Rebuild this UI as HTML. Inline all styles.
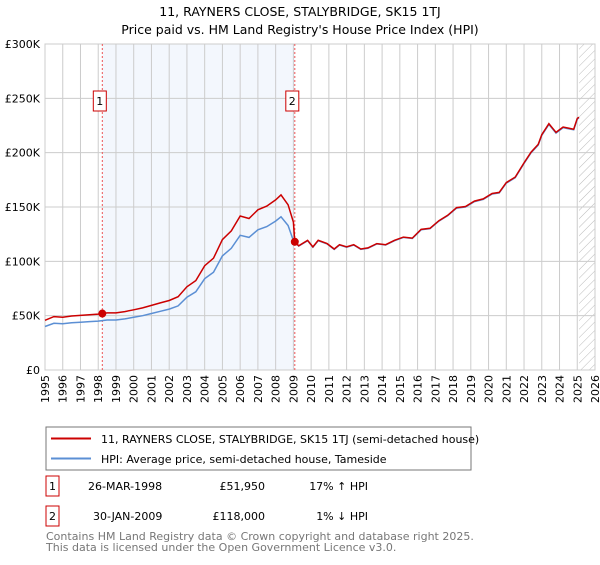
<!DOCTYPE html>
<html><head><meta charset="utf-8"><style>
body{margin:0;background:#fff;font-family:"Liberation Sans","DejaVu Sans",sans-serif;}
svg text{font-family:"DejaVu Sans","Liberation Sans",sans-serif;}
</style></head><body>
<svg id="c" width="600" height="560" xmlns="http://www.w3.org/2000/svg">
<text x="300" y="16" text-anchor="middle" font-size="12.5">11, RAYNERS CLOSE, STALYBRIDGE, SK15 1TJ</text>
<text x="300" y="34" text-anchor="middle" font-size="12.5">Price paid vs. HM Land Registry's House Price Index (HPI)</text>
<g id="plot"></g>
<g>
<rect x="46" y="427" width="425" height="43" fill="#fff" stroke="#777"/>
<line x1="51" y1="438.5" x2="91" y2="438.5" stroke="#cc0000" stroke-width="2"/>
<text x="101" y="443" font-size="11">11, RAYNERS CLOSE, STALYBRIDGE, SK15 1TJ (semi-detached house)</text>
<line x1="51" y1="458.5" x2="91" y2="458.5" stroke="#5b8fd4" stroke-width="2"/>
<text x="101" y="463" font-size="11">HPI: Average price, semi-detached house, Tameside</text>
</g>
<g font-size="11">
<rect x="46" y="476" width="13" height="20" fill="#fff" stroke="#cc0000"/><text x="52.5" y="490" text-anchor="middle">1</text>
<text x="88" y="490">26-MAR-1998</text><text x="265" y="490" text-anchor="end">£51,950</text><text x="368" y="490" text-anchor="end">17% ↑ HPI</text>
<rect x="46" y="506" width="13" height="20" fill="#fff" stroke="#cc0000"/><text x="52.5" y="520" text-anchor="middle">2</text>
<text x="93" y="520">30-JAN-2009</text><text x="265" y="520" text-anchor="end">£118,000</text><text x="368" y="520" text-anchor="end">1% ↓ HPI</text>
</g>
<text x="46" y="540" font-size="11" fill="#777">Contains HM Land Registry data © Crown copyright and database right 2025.</text>
<text x="46" y="551" font-size="11" fill="#777">This data is licensed under the Open Government Licence v3.0.</text>
</svg>
<script>
const hpiYears=[1995,1995.5,1996,1996.5,1997,1997.5,1998,1998.5,1999,1999.5,2000,2000.5,2001,2001.5,2002,2002.5,2003,2003.5,2004,2004.5,2005,2005.5,2006,2006.5,2007,2007.5,2008,2008.3,2008.7,2009,2009.3,2009.8,2010.1,2010.4,2010.9,2011.3,2011.6,2012,2012.4,2012.8,2013.2,2013.7,2014.2,2014.7,2015.2,2015.7,2016.2,2016.7,2017.2,2017.7,2018.2,2018.7,2019.2,2019.7,2020.2,2020.6,2021,2021.5,2022,2022.4,2022.8,2023,2023.4,2023.8,2024.2,2024.5,2024.8,2025,2025.1];
const hpiValues=[40,43,42.5,43.5,44,44.5,45,46,46,47,48.5,50,52,54,56,59,67,72,84,90,105,112,124,122,129,132,137,141,133,119,114,119,113,119,116,111,115,113,115,111,112,116,115,119,122,121,129,130,137,142,149,150,155,157,162,163,172,177,190,200,207,216,226,218,223,222,221,231,232];
const saleYears=[1998.23,2009.08];
const salePrices=[51950,118000];
const saleLabels=["1","2"];
const yTicks=[0,50000,100000,150000,200000,250000,300000];
const yTickLabels=["£0","£50K","£100K","£150K","£200K","£250K","£300K"];
const xTicks=[1995,1996,1997,1998,1999,2000,2001,2002,2003,2004,2005,2006,2007,2008,2009,2010,2011,2012,2013,2014,2015,2016,2017,2018,2019,2020,2021,2022,2023,2024,2025,2026];

const X0=45,X1=595,Y0=370,Y1=44;
const xs=y=>X0+(y-1995)/(2026-1995)*(X1-X0);
const ys=v=>Y0-v/300000*(Y0-Y1);
const NS="http://www.w3.org/2000/svg";
const g=document.getElementById('plot');
function mk(t,a,p){const e=document.createElementNS(NS,t);for(const k in a)e.setAttribute(k,a[k]);(p||g).appendChild(e);return e;}
function hpiAt(y){for(let i=1;i<hpiYears.length;i++){if(y<=hpiYears[i]){const f=(y-hpiYears[i-1])/(hpiYears[i]-hpiYears[i-1]);return (hpiValues[i-1]+f*(hpiValues[i]-hpiValues[i-1]))*1000;}}return hpiValues[hpiValues.length-1]*1000;}

let e=mk('rect',{x:xs(saleYears[0]),y:Y1,width:xs(saleYears[1])-xs(saleYears[0]),height:Y0-Y1,fill:'#eef3fc',opacity:0.7});

const defs=mk('defs',{});const pat=mk('pattern',{id:'h',width:6,height:6,patternUnits:'userSpaceOnUse',patternTransform:'rotate(45)'},defs);
mk('line',{x1:0,y1:0,x2:0,y2:6,stroke:'#bbb','stroke-width':1},pat);
e=mk('rect',{x:xs(2025.1),y:Y1,width:X1-xs(2025.1),height:Y0-Y1,fill:'url(#h)'});

xTicks.forEach(t=>{let l=mk('line',{x1:xs(t),y1:Y1,x2:xs(t),y2:Y0,stroke:'#ccc'});

let tx=mk('text',{x:0,y:0,'font-size':11,'text-anchor':'end',transform:`translate(${xs(t)+4},${Y0+5}) rotate(-90)`});tx.textContent=t;
});
yTicks.forEach((t,i)=>{let l=mk('line',{x1:X0,y1:ys(t),x2:X1,y2:ys(t),stroke:'#ccc'});

let tx=mk('text',{x:X0-5,y:ys(t)+4,'font-size':11,'text-anchor':'end'});tx.textContent=yTickLabels[i];
});
e=mk('rect',{x:X0,y:Y1,width:X1-X0,height:Y0-Y1,fill:'none',stroke:'#ccc'});

saleYears.forEach((s,i)=>{let l=mk('line',{x1:xs(s),y1:Y1,x2:xs(s),y2:Y0,stroke:'#e55','stroke-dasharray':'2,2'});

let r=mk('rect',{x:xs(s)-9,y:Y1+47,width:13,height:20,fill:'#fff',stroke:'#cc0000'});

let t=mk('text',{x:xs(s)-2.5,y:Y1+61,'font-size':11,'text-anchor':'middle'});t.textContent=saleLabels[i];
});
let d=hpiYears.map((y,i)=>(i?'L':'M')+xs(y).toFixed(1)+','+ys(hpiValues[i]*1000).toFixed(1)).join('');
e=mk('path',{d,fill:'none',stroke:'#5b8fd4','stroke-width':1.5});

const f0=salePrices[0]/hpiAt(saleYears[0]),f1=salePrices[1]/hpiAt(saleYears[1]);
let pts=[];hpiYears.forEach((y,i)=>{if(y<saleYears[1])pts.push([y,hpiValues[i]*1000*f0]);});
pts.push([saleYears[1],salePrices[1]]);
hpiYears.forEach((y,i)=>{if(y>saleYears[1])pts.push([y,hpiValues[i]*1000*f1]);});
d=pts.map((p,i)=>(i?'L':'M')+xs(p[0]).toFixed(1)+','+ys(p[1]).toFixed(1)).join('');
e=mk('path',{d,fill:'none',stroke:'#cc0000','stroke-width':1.5});

saleYears.forEach((s,i)=>{let c=mk('circle',{cx:xs(s),cy:ys(salePrices[i]),r:4,fill:'#cc0000'});
});
</script>
</body></html>
